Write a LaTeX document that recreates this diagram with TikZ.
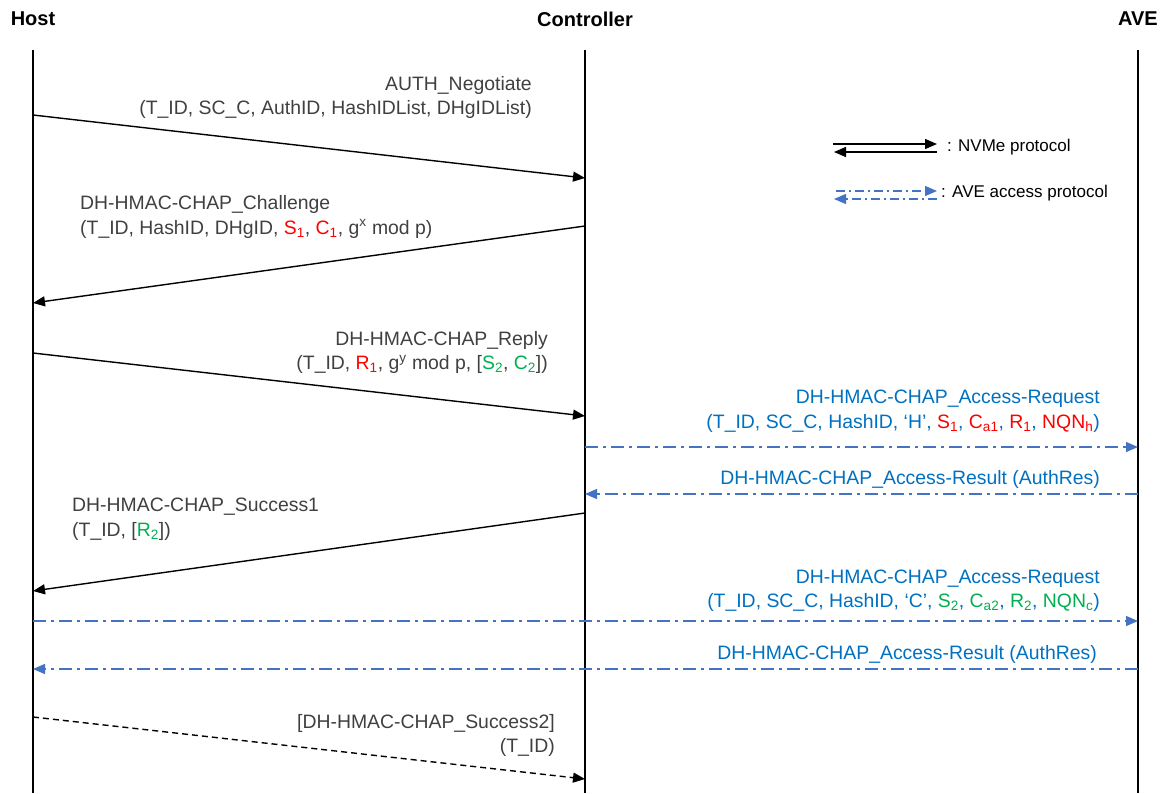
\documentclass[tikz,border=0pt]{standalone}
\usepackage{fontspec}
\setmainfont{Liberation Sans}
\usetikzlibrary{arrows.meta}

\definecolor{labelgray}{HTML}{404040}
\definecolor{avetext}{HTML}{0070C0}
\definecolor{aveline}{HTML}{4472C4}
\definecolor{keyred}{HTML}{FF0000}
\definecolor{keygreen}{HTML}{00B050}

\newcommand{\rd}[1]{\textcolor{keyred}{#1}}
\newcommand{\gn}[1]{\textcolor{keygreen}{#1}}

\tikzset{
  header/.style={font=\fontsize{20}{24}\selectfont\bfseries, inner sep=0pt},
  lifeline/.style={line width=1.4pt, black},
  nvme/.style={line width=1.4pt, black, -{Triangle[length=12pt,width=10pt]}},
  optional/.style={nvme, dash pattern=on 6pt off 4pt},
  aveacc/.style={line width=1.3pt, aveline, dash pattern=on 13pt off 5pt on 3pt off 5pt,
                 -{Triangle[length=12pt,width=10pt]}},
  msglabel/.style={font=\fontsize{19.4}{24.5}\selectfont, text=labelgray, inner sep=0pt},
  avelabel/.style={msglabel, text=avetext},
  keytext/.style={font=\fontsize{17}{20}\selectfont, text=black, inner sep=0pt, anchor=west}
}

\begin{document}
\begin{tikzpicture}[x=1pt, y=-1pt]
\useasboundingbox (0,0) rectangle (1165,793);

% participants
\node[header] (host) at (33,19) {Host};
\node[header] (ctrl) at (585,19) {Controller};
\node[header] (ave)  at (1138,19) {AVE};

\coordinate (hostend) at (33,793);
\coordinate (ctrlend) at (585,793);
\coordinate (aveend)  at (1138,793);
\draw[lifeline] (33,50) -- (hostend);
\draw[lifeline] (585,50) -- (ctrlend);
\draw[lifeline] (1138,50) -- (aveend);

% message end points on the lifelines
\coordinate (h1) at (33,115);   \coordinate (c1) at (585,178);
\coordinate (c2) at (585,226);  \coordinate (h2) at (33,303);
\coordinate (h3) at (33,353);   \coordinate (c3) at (585,416);
\coordinate (c4) at (585,447);  \coordinate (a4) at (1138,447);
\coordinate (a5) at (1138,494); \coordinate (c5) at (585,494);
\coordinate (c6) at (585,513);  \coordinate (h6) at (33,591);
\coordinate (h7) at (33,621);   \coordinate (a7) at (1138,621);
\coordinate (a8) at (1138,669); \coordinate (h8) at (33,669);
\coordinate (h9) at (33,717);   \coordinate (c9) at (585,779);

% messages
\draw[nvme] (h1) -- (c1);
\node[msglabel, anchor=east, align=right] (m1) at (532,97.5)
  {AUTH\_Negotiate\\(T\_ID, SC\_C, AuthID, HashIDList, DHgIDList)};

\draw[nvme] (c2) -- (h2);
\node[msglabel, anchor=west, align=left] (m2) at (80,217)
  {DH-HMAC-CHAP\_Challenge\\(T\_ID, HashID, DHgID, \rd{S\textsubscript{1}}, \rd{C\textsubscript{1}}, g\textsuperscript{x} mod p)};

\draw[nvme] (h3) -- (c3);
\node[msglabel, anchor=east, align=right] (m3) at (548,352.5)
  {DH-HMAC-CHAP\_Reply\\(T\_ID, \rd{R\textsubscript{1}}, g\textsuperscript{y} mod p, [\gn{S\textsubscript{2}}, \gn{C\textsubscript{2}}])};

\draw[aveacc] (c4) -- (a4);
\node[avelabel, anchor=east, align=right] (m4) at (1100,411)
  {DH-HMAC-CHAP\_Access-Request\\(T\_ID, SC\_C, HashID, ‘H’, \rd{S\textsubscript{1}}, \rd{C\textsubscript{a1}}, \rd{R\textsubscript{1}}, \rd{NQN\textsubscript{h}})};

\draw[aveacc] (a5) -- (c5);
\node[avelabel, anchor=east] (m5) at (1100,479)
  {DH-HMAC-CHAP\_Access-Result (AuthRes)};

\draw[nvme] (c6) -- (h6);
\node[msglabel, anchor=west, align=left] (m6) at (72,519)
  {DH-HMAC-CHAP\_Success1\\(T\_ID, [\gn{R\textsubscript{2}}])};

\draw[aveacc] (h7) -- (a7);
\node[avelabel, anchor=east, align=right] (m7) at (1100,590.5)
  {DH-HMAC-CHAP\_Access-Request\\(T\_ID, SC\_C, HashID, ‘C’, \gn{S\textsubscript{2}}, \gn{C\textsubscript{a2}}, \gn{R\textsubscript{2}}, \gn{NQN\textsubscript{c}})};

\draw[aveacc] (a8) -- (h8);
\node[avelabel, anchor=east] (m8) at (1097,654)
  {DH-HMAC-CHAP\_Access-Result (AuthRes)};

\draw[optional] (h9) -- (c9);
\node[msglabel, anchor=east, align=right] (m9) at (555,735.5)
  {[DH-HMAC-CHAP\_Success2]\\(T\_ID)};

% legend
\coordinate (k1a) at (833,144); \coordinate (k1b) at (937,144);
\coordinate (k2a) at (937,152); \coordinate (k2b) at (834,152);
\draw[nvme] (k1a) -- (k1b);
\draw[nvme] (k2a) -- (k2b);
\node[keytext] (knvme) at (947,147) {: NVMe protocol};

\coordinate (k3a) at (836,191); \coordinate (k3b) at (937,191);
\coordinate (k4a) at (937,199); \coordinate (k4b) at (834,199);
\draw[aveacc, dash pattern=on 9pt off 4pt on 2pt off 4pt] (k3a) -- (k3b);
\draw[aveacc, dash pattern=on 9pt off 4pt on 2pt off 4pt] (k4a) -- (k4b);
\node[keytext] (kave) at (941,193) {: AVE access protocol};
\end{tikzpicture}
\end{document}
